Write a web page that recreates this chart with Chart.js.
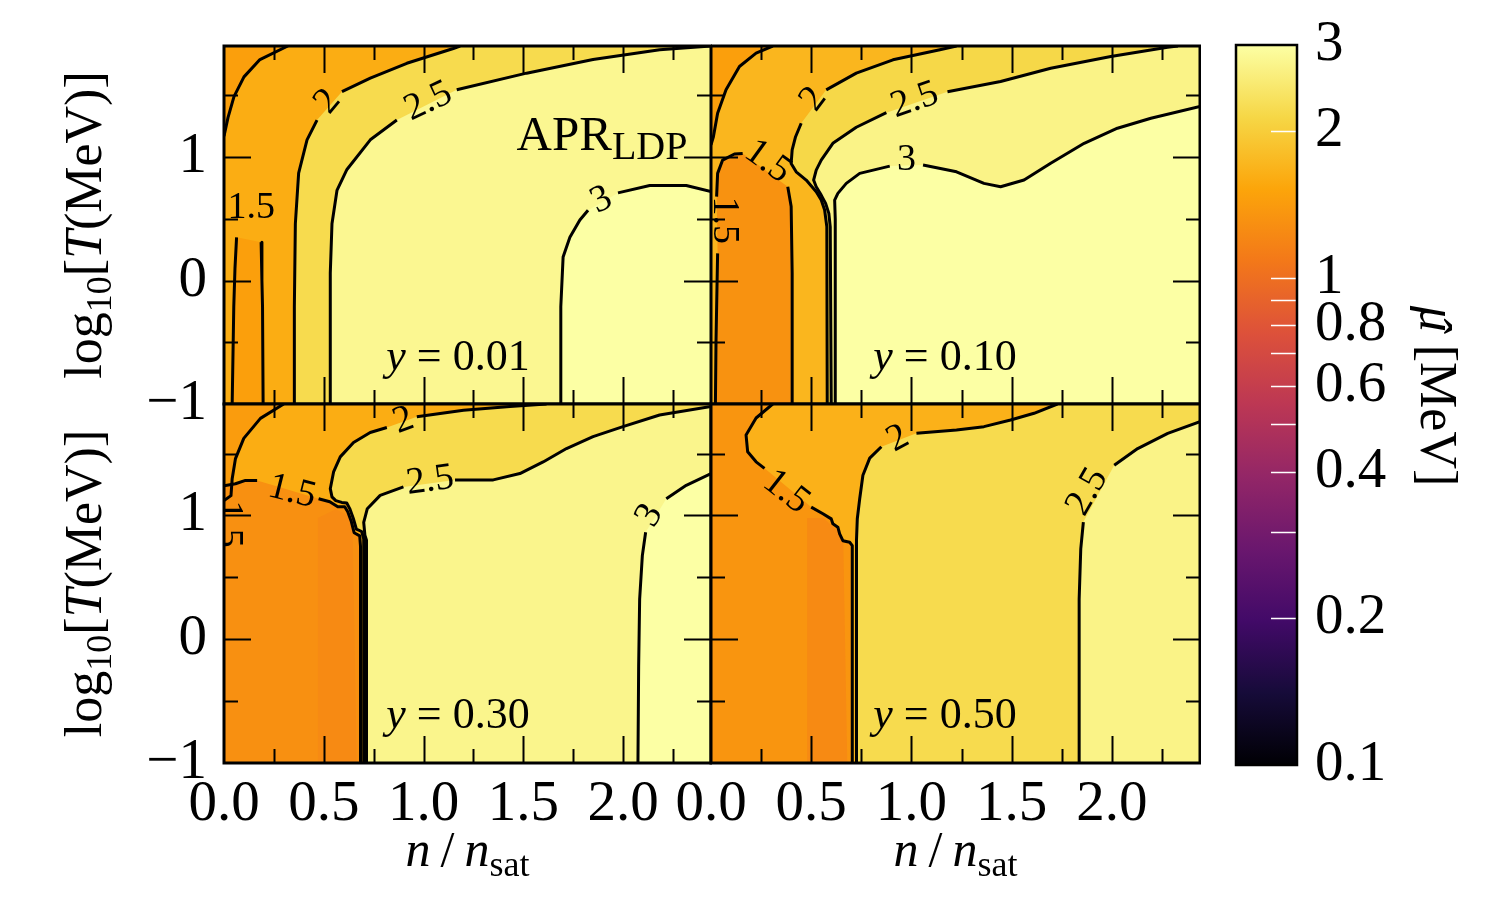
<!DOCTYPE html>
<html>
<head>
<meta charset="utf-8">
<script src="https://cdn.jsdelivr.net/npm/chart.js@4.4.0/dist/chart.umd.min.js"></script>
<style>
body { margin: 0; background: #fff; }
#fig { position: relative; width: 1500px; height: 900px; overflow: hidden; background: #fff; }
canvas { position: absolute; }
</style>
</head>
<body>
<div id="fig">
  <canvas id="cTL" width="712" height="470" style="left:0;top:0"></canvas>
  <canvas id="cTR" width="490" height="470" style="left:711px;top:0"></canvas>
  <canvas id="cBL" width="712" height="540" style="left:0;top:360px"></canvas>
  <canvas id="cBR" width="561" height="540" style="left:640px;top:360px"></canvas>
  <canvas id="cCB" width="270" height="900" style="left:1230px;top:0"></canvas>
</div>
<script>
const FONT = '"Liberation Serif", "Times New Roman", serif';
const XM = 2.44, YMIN = -1, YM = 1.9;

// axis ticks
const xLabels = [0, 0.5, 1, 1.5, 2];
const yLabels = [-1, 0, 1];
const xTickMarks = [0.25, 0.5, 0.75, 1, 1.25, 1.5, 1.75, 2, 2.25];
const yTickMarks = [-0.5, 0, 0.5, 1, 1.5];
const cbTicks = [0.1, 0.2, 0.4, 0.6, 0.8, 1, 2, 3];
const cbMinor = [0.2, 0.3, 0.4, 0.5, 0.6, 0.7, 0.8, 0.9, 1, 2];

// contour lines as [n/nsat, log10 T]; null = gap for the inline label
// y = 0.01
const tlC15a = [[0,1.17],[0.02,1.32],[0.05,1.49],[0.1,1.65],[0.18,1.79],[0.32,1.9]];
const tlC15b = [[0.041,-1],[0.049,-0.21],[0.055,0.1],[0.063,0.35],null,[0.186,0.31],[0.19,0],[0.193,-0.21],[0.196,-1]];
const tlC2 = [[0.3525,-1],[0.3525,-0.21],[0.3575,0.46],[0.374,0.87],[0.416,1.14],[0.466,1.3],null,[0.591,1.53],[0.733,1.64],[0.916,1.76],[1.149,1.88],[1.183,1.9]];
const tlC25 = [[0.5325,-1],[0.5325,0.06],[0.541,0.46],[0.566,0.73],[0.616,0.9],[0.733,1.14],[0.866,1.3],null,[1.166,1.545],[1.516,1.68],[1.849,1.79],[2.183,1.87],[2.44,1.9]];
const tlC3 = [[1.6875,-1],[1.6875,-0.21],[1.699,0.19],[1.733,0.35],[1.783,0.49],[1.824,0.57],null,[1.974,0.71],[2.133,0.77],[2.316,0.77],[2.44,0.72]];
const tlMu = [1.6, 1.45, 1.45, 2.2, 2.8, 3.1];
const tlLab = [['1.5',0.136,0.59,0],['2',0.52,1.45,-50],['2.5',1.024,1.45,-25],['3',1.891,0.652,-25]];

// y = 0.10
const trC15a = [[0,1.1],[0.012,1.165],[0.033,1.355],[0.075,1.545],[0.142,1.734],[0.225,1.842],[0.308,1.9]];
const trC15 = [[0.405,-1],[0.405,0.06],[0.4,0.6],[0.383,0.76],null,[0.158,1.03],[0.117,1.025],[0.058,0.976],[0.033,0.868],[0.028,0.68],null,[0.033,0.22],[0.025,-0.49],[0.022,-1]];
const trC2 = [[0.58,-1],[0.578,0.435],[0.567,0.571],[0.55,0.652],[0.525,0.719],[0.475,0.814],[0.425,0.881],[0.4,0.949],[0.405,1.058],[0.422,1.165],[0.45,1.274],null,[0.575,1.545],[0.725,1.68],[0.908,1.788],[1.142,1.869],[1.225,1.9]];
const trC25 = [[0.6,-1],[0.595,0.435],[0.588,0.544],[0.572,0.625],[0.55,0.692],[0.525,0.76],[0.512,0.814],[0.525,0.895],[0.55,0.976],[0.608,1.112],[0.725,1.242],[0.875,1.36],null,[1.18,1.53],[1.445,1.612],[1.695,1.72],[1.995,1.815],[2.278,1.89],[2.33,1.9]];
const trC3 = [[0.62,-1],[0.62,0.5],[0.617,0.652],[0.633,0.706],[0.675,0.787],[0.742,0.868],[0.892,0.927],null,[1.058,0.936],[1.225,0.881],[1.362,0.787],[1.445,0.76],[1.562,0.814],[1.695,0.95],[1.862,1.112],[2.028,1.234],[2.195,1.315],[2.44,1.41]];
const trMu = [1.7, 1.32, 1.45, 2.15, 2.7, 3.1];
const trLab = [['1.5',0.283,0.963,36],['1.5',0.066,0.489,90],['2',0.512,1.469,-53],['2.5',1.017,1.46,-19],['3',0.975,0.976,0]];

// y = 0.30
const blC15a = [[0,1.12],[0.035,1.16],[0.041,1.297],[0.0575,1.459],[0.099,1.622],[0.1825,1.784],[0.299,1.9]];
const blC15 = [[0,1.24],[0.0575,1.256],[0.1075,1.283],[0.166,1.283],null,[0.474,1.135],[0.53,1.11],[0.57,1.07],[0.605,1.07],[0.62,1.03],[0.637,0.955],[0.652,0.86],[0.68,0.835],[0.684,0.75],[0.684,-1]];
const blC2 = [[0.7,-1],[0.7,0.81],[0.69,0.87],[0.663,0.89],[0.648,0.975],[0.63,1.055],[0.615,1.1],[0.59,1.105],[0.56,1.12],[0.541,1.15],[0.5325,1.216],[0.549,1.351],[0.5825,1.473],[0.649,1.589],[0.7325,1.67],[0.816,1.71],null,[0.966,1.797],[1.2,1.85],[1.4325,1.88],[1.616,1.9]];
const blC25 = [[0.714,-1],[0.714,0.8],[0.706,0.84],[0.7,0.944],[0.718,1.054],[0.7825,1.162],[0.899,1.23],null,[1.1575,1.287],[1.349,1.287],[1.4825,1.338],[1.599,1.432],[1.716,1.54],[1.849,1.636],[1.999,1.717],[2.1825,1.811],[2.44,1.88]];
const blC3 = [[2.074,-1],[2.0775,-0.218],[2.0825,0.323],[2.096,0.675],[2.1125,0.864],null,[2.216,1.135],[2.316,1.243],[2.44,1.338]];
const blStrip = [[0.47,-1],[0.47,0.98],[0.56,1.05],[0.62,1.0],[0.645,0.86],[0.665,-1]];
const blMu = [1.6, 1.42, 1.3, 1.24, 2.2, 2.75, 3.05];
const blLab = [['1.5',0.341,1.19,14],['1.5',0.02,0.93,90],['2',0.899,1.765,-20],['2.5',1.0325,1.28,-8],['3',2.1325,1.0,-60]];

// y = 0.50
const brC15 = [[0.308,1.9],[0.225,1.787],[0.175,1.649],[0.183,1.514],[0.225,1.433],[0.267,1.38],null,[0.5,1.067],[0.5585,1.013],[0.6,0.972],[0.608,0.932],[0.633,0.905],[0.642,0.851],[0.658,0.796],[0.692,0.783],[0.705,0.756],[0.705,-1]];
const brC2 = [[0.728,-1],[0.728,0.75],[0.724,0.8],[0.73,0.973],[0.742,1.135],[0.758,1.324],[0.792,1.463],[0.85,1.555],null,[1.025,1.663],[1.225,1.69],[1.362,1.717],[1.495,1.771],[1.612,1.825],[1.7285,1.9]];
const brC25 = [[1.837,-1],[1.837,0.323],[1.845,0.729],[1.858,0.946],null,[2.012,1.405],[2.129,1.54],[2.279,1.662],[2.44,1.757]];
const brStrip = [[0.48,-1],[0.48,0.98],[0.56,0.98],[0.63,0.88],[0.66,0.79],[0.68,-1]];
const brMu = [1.65, 1.35, 1.24, 2.2, 2.7];
const brLab = [['1.5',0.375,1.19,38],['2',0.933,1.62,-28],['2.5',1.879,1.19,-60]];

// inferno colormap on a log norm from 0.1 to 3 MeV
const infernoStops = ['#000004','#160b39','#420a68','#6a176e','#932667','#bc3754','#dd513a','#f37819','#fca50a','#f6d746','#fcffa4'];
function hex(c) { return [1, 3, 5].map(i => parseInt(c.slice(i, i + 2), 16)); }
function cmap(v) {
  let p = Math.log(v / 0.1) / Math.log(30);
  p = Math.min(1, Math.max(0, p));
  const f = p * 10, i = Math.min(9, Math.floor(f)), t = f - i;
  const a = hex(infernoStops[i]), b = hex(infernoStops[i + 1]);
  return 'rgb(' + a.map((c, k) => Math.round(c + (b[k] - c) * t)).join(',') + ')';
}

const rect = [[0,YMIN],[0,YM],[XM,YM],[XM,YMIN]];
const band = (l, ...c) => l.filter(Boolean).concat(c);
const toXY = pts => pts.map(p => p ? {x: p[0], y: p[1]} : {x: null, y: null});

function rich(ctx, segs, x, y, rot) {
  ctx.save();
  ctx.translate(x, y);
  ctx.rotate(rot || 0);
  ctx.textAlign = 'left';
  ctx.textBaseline = 'alphabetic';
  ctx.fillStyle = '#000';
  let w = 0;
  segs.forEach(s => {
    ctx.font = (s.i ? 'italic ' : '') + s.s + 'px ' + FONT;
    s.w = ctx.measureText(s.t).width;
    w += s.w;
  });
  let cx = -w / 2;
  segs.forEach(s => {
    ctx.font = (s.i ? 'italic ' : '') + s.s + 'px ' + FONT;
    ctx.fillText(s.t, cx, s.dy || 0);
    if (s.hat) {
      ctx.textAlign = 'center';
      ctx.fillText('\u02c6', cx + s.w / 2 + s.s * 0.08, (s.dy || 0) + s.s * 0.12);
      ctx.textAlign = 'left';
    }
    cx += s.w;
  });
  ctx.restore();
}

function deco(P) {
  return {
    id: 'deco',
    afterDatasetsDraw(chart) {
      const {ctx, chartArea: a, scales: {x, y}} = chart;
      ctx.save();
      ctx.beginPath();
      ctx.rect(a.left, a.top, a.right - a.left, a.bottom - a.top);
      ctx.clip();
      // contour labels
      ctx.fillStyle = '#000';
      ctx.font = '38px ' + FONT;
      ctx.textAlign = 'center';
      ctx.textBaseline = 'middle';
      P.labels.forEach(([t, lx, ly, r]) => {
        ctx.save();
        ctx.translate(x.getPixelForValue(lx), y.getPixelForValue(ly));
        ctx.rotate(r * Math.PI / 180);
        ctx.fillText(t, 0, 0);
        ctx.restore();
      });
      // inward ticks
      ctx.strokeStyle = '#000';
      ctx.lineWidth = 2;
      ctx.beginPath();
      xTickMarks.forEach(v => {
        const px = Math.round(x.getPixelForValue(v)) + 0.5;
        const L = Math.abs(v * 2 - Math.round(v * 2)) < 1e-6 ? 27 : 14;
        ctx.moveTo(px, a.bottom); ctx.lineTo(px, a.bottom - L);
        ctx.moveTo(px, a.top); ctx.lineTo(px, a.top + L);
      });
      yTickMarks.forEach(v => {
        const py = Math.round(y.getPixelForValue(v)) + 0.5;
        const L = Math.abs(v - Math.round(v)) < 1e-6 ? 27 : 14;
        ctx.moveTo(a.left, py); ctx.lineTo(a.left + L, py);
        ctx.moveTo(a.right, py); ctx.lineTo(a.right - L, py);
      });
      ctx.stroke();
      // panel notes
      rich(ctx, [{t: 'y', s: 44, i: true}, {t: ' = ' + P.note, s: 44}], a.left + 234, a.top + 324);
      if (P.apr) rich(ctx, [{t: 'APR', s: 49}, {t: 'LDP', s: 40, dy: 9}], a.left + 378, a.top + 104);
      ctx.restore();
      // frame
      ctx.save();
      ctx.strokeStyle = '#000';
      ctx.lineWidth = 3;
      ctx.strokeRect(a.left, a.top, a.right - a.left, a.bottom - a.top);
      ctx.restore();
      // axis titles
      if (P.showY) {
        rich(ctx, [{t: 'log', s: 52}, {t: '10', s: 36, dy: 10}, {t: '[', s: 52}, {t: 'T', s: 52, i: true},
          {t: '(MeV)]', s: 52}], 101, (a.top + a.bottom) / 2, -Math.PI / 2);
      }
      if (P.showX) {
        rich(ctx, [{t: 'n', s: 50, i: true}, {t: '\u2009/\u2009', s: 50}, {t: 'n', s: 50, i: true},
          {t: 'sat', s: 36, dy: 10}], (a.left + a.right) / 2, a.bottom + 103);
      }
    }
  };
}

function makePanel(id, P) {
  const datasets = [];
  P.bands.forEach((pts, i) => datasets.push({
    data: toXY(pts), fill: 'shape', backgroundColor: cmap(P.mu[i]),
    borderColor: 'rgba(0,0,0,0)', borderWidth: 0, pointRadius: 0, order: 100 - i
  }));
  P.lines.forEach(l => datasets.push({
    data: toXY(l), fill: false, borderColor: '#000', borderWidth: 3,
    borderJoinStyle: 'round', pointRadius: 0, order: 0
  }));
  const tickFont = {family: FONT, size: 57};
  return new Chart(document.getElementById(id), {
    type: 'line',
    data: {datasets},
    options: {
      responsive: false,
      animation: false,
      events: [],
      layout: {padding: P.pad},
      plugins: {legend: {display: false}, tooltip: {enabled: false}},
      scales: {
        x: {
          type: 'linear', min: 0, max: XM, display: P.showX,
          afterBuildTicks: s => { s.ticks = xLabels.map(v => ({value: v})); },
          afterFit: s => {
            if (!P.showX) { s.height = 0; return; }
            s.height = 137; s.paddingLeft = 0; s.paddingRight = 0;
          },
          grid: {display: false, drawTicks: false},
          border: {display: false},
          ticks: {font: tickFont, color: '#000', padding: 8, maxRotation: 0, minRotation: 0,
            autoSkip: false, callback: v => v.toFixed(1)}
        },
        y: {
          type: 'linear', min: YMIN, max: YM, display: P.showY,
          afterBuildTicks: s => { s.ticks = yLabels.map(v => ({value: v})); },
          afterFit: s => {
            if (!P.showY) { s.width = 0; return; }
            s.width = 224; s.paddingTop = 0; s.paddingBottom = 0;
          },
          grid: {display: false, drawTicks: false},
          border: {display: false},
          ticks: {font: tickFont, color: '#000', padding: 17, autoSkip: false,
            callback: v => (v < 0 ? '\u2212' : '') + Math.abs(v)}
        }
      }
    },
    plugins: [deco(P)]
  });
}

makePanel('cTL', {
  bands: [rect, band(tlC15b), band(tlC15a, [0, YM]), band(tlC2, [XM, YM], [XM, YMIN]),
    band(tlC25, [XM, YMIN]), band(tlC3, [XM, YMIN])],
  mu: tlMu, lines: [tlC15a, tlC15b, tlC2, tlC25, tlC3], labels: tlLab,
  note: '0.01', apr: true, showX: false, showY: true,
  pad: {top: 46, right: 1, bottom: 66, left: 0}
});
makePanel('cTR', {
  bands: [rect, band(trC15), band(trC15a, [0, YM]), band(trC2, [XM, YM], [XM, YMIN]),
    band(trC25, [XM, YM], [XM, YMIN]), band(trC3, [XM, YMIN])],
  mu: trMu, lines: [trC15a, trC15, trC2, trC25, trC3], labels: trLab,
  note: '0.10', apr: false, showX: false, showY: false,
  pad: {top: 46, right: 1, bottom: 66, left: 0}
});
makePanel('cBL', {
  bands: [rect, band(blC15a, [0, YM]), band(blC15, [0, YMIN]), blStrip, band(blC2, [XM, YM], [XM, YMIN]),
    band(blC25, [XM, YMIN]), band(blC3, [XM, YMIN])],
  mu: blMu, lines: [blC15a, blC15, blC2, blC25, blC3], labels: blLab,
  note: '0.30', apr: false, showX: true, showY: true,
  pad: {top: 44, right: 1, bottom: 0, left: 0}
});
makePanel('cBR', {
  bands: [rect, band(brC15, [0, YMIN], [0, YM]), brStrip, band(brC2, [XM, YM], [XM, YMIN]),
    band(brC25, [XM, YMIN])],
  mu: brMu, lines: [brC15, brC2, brC25], labels: brLab,
  note: '0.50', apr: false, showX: true, showY: false,
  pad: {top: 44, right: 1, bottom: 0, left: 71}
});

// colour bar
const cbDeco = {
  id: 'cbDeco',
  beforeDatasetsDraw(chart) {
    const {ctx, chartArea: a, scales: {y}} = chart;
    const g = ctx.createLinearGradient(0, a.bottom, 0, a.top);
    infernoStops.forEach((c, i) => g.addColorStop(i / (infernoStops.length - 1), c));
    ctx.save();
    ctx.fillStyle = g;
    ctx.fillRect(a.left, a.top, a.right - a.left, a.bottom - a.top);
    ctx.strokeStyle = '#fff';
    ctx.lineWidth = 1.5;
    ctx.beginPath();
    cbMinor.forEach(v => {
      const py = Math.round(y.getPixelForValue(v)) + 0.5;
      ctx.moveTo(a.right - 26, py); ctx.lineTo(a.right, py);
    });
    ctx.stroke();
    ctx.strokeStyle = '#000';
    ctx.lineWidth = 2.5;
    ctx.strokeRect(a.left, a.top, a.right - a.left, a.bottom - a.top);
    ctx.restore();
    rich(ctx, [{t: '\u03bc', s: 52, i: true, hat: true}, {t: ' [MeV]', s: 52}], 191, 396, Math.PI / 2);
  }
};

new Chart(document.getElementById('cCB'), {
  type: 'line',
  data: {datasets: []},
  options: {
    responsive: false,
    animation: false,
    events: [],
    layout: {padding: {top: 45, bottom: 135, left: 6, right: 0}},
    plugins: {legend: {display: false}, tooltip: {enabled: false}},
    scales: {
      x: {type: 'linear', min: 0, max: 1, display: false},
      y: {
        type: 'logarithmic', position: 'right', min: 0.1, max: 3,
        afterBuildTicks: s => { s.ticks = cbTicks.map(v => ({value: v})); },
        afterFit: s => { s.width = 203; s.paddingTop = 0; s.paddingBottom = 0; },
        grid: {display: false, drawTicks: false},
        border: {display: false},
        ticks: {font: {family: FONT, size: 57}, color: '#000', padding: 18, autoSkip: false,
          callback: v => String(v)}
      }
    }
  },
  plugins: [cbDeco]
});
</script>
</body>
</html>
